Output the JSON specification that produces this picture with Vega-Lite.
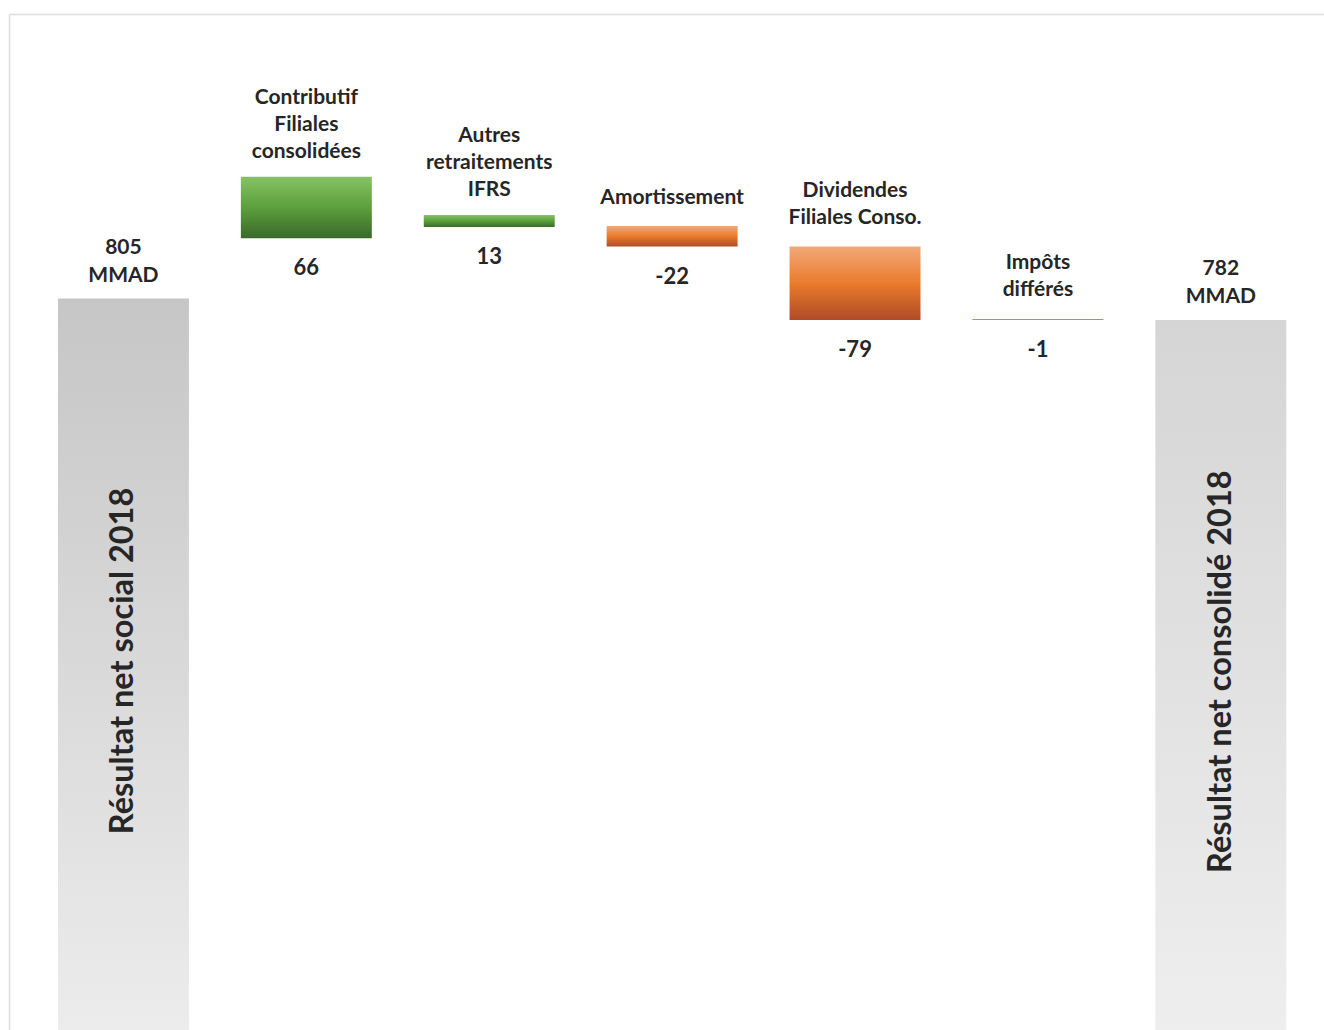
{
  "$schema": "https://vega.github.io/schema/vega-lite/v6.json",
  "autosize": {"type": "none"},
  "padding": {"left": 9, "top": 14, "right": 0, "bottom": 0},
  "width": 1315,
  "height": 1016,
  "background": "#ffffff",
  "config": {"view": {"stroke": null}},
  "data": {"values": [
    {"cat": "social", "kind": "start", "lo": 0, "hi": 805, "top": "805\nMMAD", "amount": "805", "inside": "Résultat net social 2018"},
    {"cat": "contrib", "kind": "pos", "lo": 870, "hi": 936, "top": "Contributif\nFiliales\nconsolidées", "amount": "66", "inside": ""},
    {"cat": "autres", "kind": "pos", "lo": 882, "hi": 895, "top": "Autres\nretraitements\nIFRS", "amount": "13", "inside": ""},
    {"cat": "amort", "kind": "neg", "lo": 861, "hi": 883, "top": "Amortissement", "amount": "-22", "inside": ""},
    {"cat": "divid", "kind": "neg", "lo": 782, "hi": 861, "top": "Dividendes\nFiliales Conso.", "amount": "-79", "inside": ""},
    {"cat": "impots", "kind": "neg", "lo": 782, "hi": 783, "top": "Impôts\ndifférés", "amount": "-1", "inside": ""},
    {"cat": "conso", "kind": "end", "lo": 0, "hi": 782, "top": "782\nMMAD", "amount": "782", "inside": "Résultat net consolidé 2018"}
  ]},
  "encoding": {
    "x": {
      "field": "cat", "type": "nominal",
      "sort": ["social", "contrib", "autres", "amort", "divid", "impots", "conso"],
      "scale": {"domain": ["social", "contrib", "autres", "amort", "divid", "impots", "conso"], "paddingInner": 0.284, "paddingOuter": 0.237, "align": 0.565},
      "axis": {"orient": "top", "title": null, "labels": false, "ticks": false, "domain": true, "domainColor": "#dcdcdc", "domainWidth": 1.5, "grid": false}
    },
    "y": {
      "field": "hi", "type": "quantitative",
      "scale": {"domain": [18.6, 1111], "nice": false, "zero": false, "clamp": true},
      "axis": {"title": null, "labels": false, "ticks": false, "domain": true, "domainColor": "#dcdcdc", "domainWidth": 1.5, "grid": false}
    }
  },
  "layer": [
    {
      "transform": [{"filter": "datum.kind == 'start'"}],
      "mark": {"type": "bar", "color": {"gradient": "linear", "x1": 0, "y1": 0, "x2": 0, "y2": 1, "stops": [{"offset": 0, "color": "#c6c6c6"}, {"offset": 1, "color": "#ececec"}]}},
      "encoding": {"y2": {"field": "lo"}}
    },
    {
      "transform": [{"filter": "datum.kind == 'end'"}],
      "mark": {"type": "bar", "color": {"gradient": "linear", "x1": 0, "y1": 0, "x2": 0, "y2": 1, "stops": [{"offset": 0, "color": "#d5d5d5"}, {"offset": 1, "color": "#eeeeee"}]}},
      "encoding": {"y2": {"field": "lo"}}
    },
    {
      "transform": [{"filter": "datum.kind == 'pos'"}],
      "mark": {"type": "bar", "color": {"gradient": "linear", "x1": 0, "y1": 0, "x2": 0, "y2": 1, "stops": [{"offset": 0, "color": "#86c264"}, {"offset": 0.5, "color": "#5c9f3c"}, {"offset": 1, "color": "#3a6a2b"}]}},
      "encoding": {"y2": {"field": "lo"}}
    },
    {
      "transform": [{"filter": "datum.kind == 'neg'"}],
      "mark": {"type": "bar", "color": {"gradient": "linear", "x1": 0, "y1": 0, "x2": 0, "y2": 1, "stops": [{"offset": 0, "color": "#f2a877"}, {"offset": 0.5, "color": "#ea7b2c"}, {"offset": 1, "color": "#b04b26"}]}},
      "encoding": {"y2": {"field": "lo"}}
    },
    {
      "transform": [{"filter": "datum.kind == 'start' || datum.kind == 'end'"}],
      "mark": {"type": "text", "font": "Lato", "fontWeight": "bold", "fontSize": 21, "color": "#262626", "baseline": "alphabetic", "align": "center", "lineBreak": "\n", "lineHeight": 28, "dy": -45},
      "encoding": {"text": {"field": "top"}}
    },
    {
      "transform": [{"filter": "(datum.kind == 'pos' || datum.kind == 'neg') && length(split(datum.top, '\\n')) == 1"}],
      "mark": {"type": "text", "font": "Lato", "fontWeight": "bold", "fontSize": 21, "color": "#262626", "baseline": "alphabetic", "align": "center", "lineBreak": "\n", "lineHeight": 27, "dy": -22},
      "encoding": {"text": {"field": "top"}}
    },
    {
      "transform": [{"filter": "(datum.kind == 'pos' || datum.kind == 'neg') && length(split(datum.top, '\\n')) == 2"}],
      "mark": {"type": "text", "font": "Lato", "fontWeight": "bold", "fontSize": 21, "color": "#262626", "baseline": "alphabetic", "align": "center", "lineBreak": "\n", "lineHeight": 27, "dy": -50},
      "encoding": {"text": {"field": "top"}}
    },
    {
      "transform": [{"filter": "(datum.kind == 'pos' || datum.kind == 'neg') && length(split(datum.top, '\\n')) == 3"}],
      "mark": {"type": "text", "font": "Lato", "fontWeight": "bold", "fontSize": 21, "color": "#262626", "baseline": "alphabetic", "align": "center", "lineBreak": "\n", "lineHeight": 27, "dy": -73},
      "encoding": {"text": {"field": "top"}}
    },
    {
      "transform": [{"filter": "datum.kind == 'pos' || datum.kind == 'neg'"}],
      "mark": {"type": "text", "font": "Lato", "fontWeight": "bold", "fontSize": 22, "color": "#262626", "baseline": "middle", "align": "center", "dy": 30},
      "encoding": {"y": {"field": "lo", "type": "quantitative"}, "text": {"field": "amount"}}
    },
    {
      "transform": [{"filter": "datum.kind == 'start' || datum.kind == 'end'"}, {"calculate": "datum.hi / 2", "as": "mid"}],
      "mark": {"type": "text", "font": "Lato", "fontWeight": "bold", "fontSize": 32.5, "color": "#262626", "baseline": "middle", "align": "center", "angle": 270, "yOffset": -12},
      "encoding": {"y": {"field": "mid", "type": "quantitative"}, "text": {"field": "inside"}}
    }
  ]
}
